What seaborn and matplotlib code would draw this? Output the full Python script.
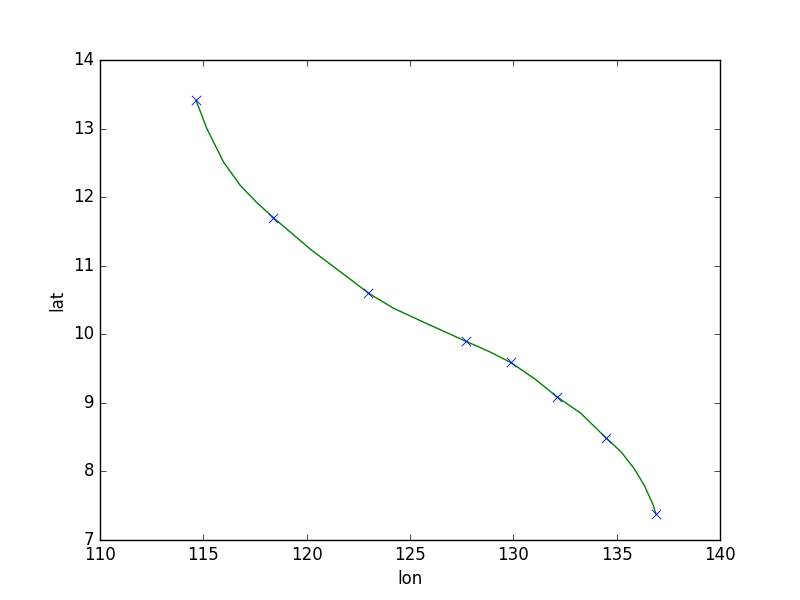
import matplotlib
matplotlib.use("Agg")
import pandas as pd
import seaborn as sns
import matplotlib.pyplot as plt

# estaciones (marcadores)
lon = [114.65, 118.39, 122.99, 127.69, 129.87, 132.10, 134.48, 136.90]
lat = [13.41, 11.70, 10.60, 9.90, 9.59, 9.09, 8.49, 7.38]

# curva suavizada
curve_lon = [114.65, 115.17, 115.98, 116.79, 117.59, 118.39, 119.21, 120.18, 121.15,
             122.12, 122.99, 124.20, 125.85, 127.69, 128.82, 129.87, 131.08, 132.10,
             133.26, 134.48, 135.20, 135.85, 136.33, 136.74, 136.90]
curve_lat = [13.41, 13.00, 12.51, 12.17, 11.92, 11.70, 11.49, 11.24, 11.02,
             10.80, 10.60, 10.38, 10.15, 9.90, 9.75, 9.59, 9.34, 9.09,
             8.85, 8.49, 8.29, 8.04, 7.80, 7.53, 7.38]

df_pts = pd.DataFrame({"lon": lon, "lat": lat})
df_curve = pd.DataFrame({"lon": curve_lon, "lat": curve_lat})

plt.style.use("classic")
fig, ax = plt.subplots(figsize=(8, 6), dpi=100)
fig.patch.set_facecolor("white")

sns.lineplot(data=df_curve, x="lon", y="lat", color="green", linewidth=1.0,
             estimator=None, sort=False, ax=ax)
sns.scatterplot(data=df_pts, x="lon", y="lat", marker="x", color="blue",
                s=45, linewidth=0.6, ax=ax, zorder=3)

ax.set_xlim(110, 140)
ax.set_ylim(7, 14)
ax.set_xlabel("lon")
ax.set_ylabel("lat")

fig.subplots_adjust(left=0.125, right=0.9, bottom=0.1, top=0.9)
fig.savefig("out.png", dpi=100, facecolor="white")
